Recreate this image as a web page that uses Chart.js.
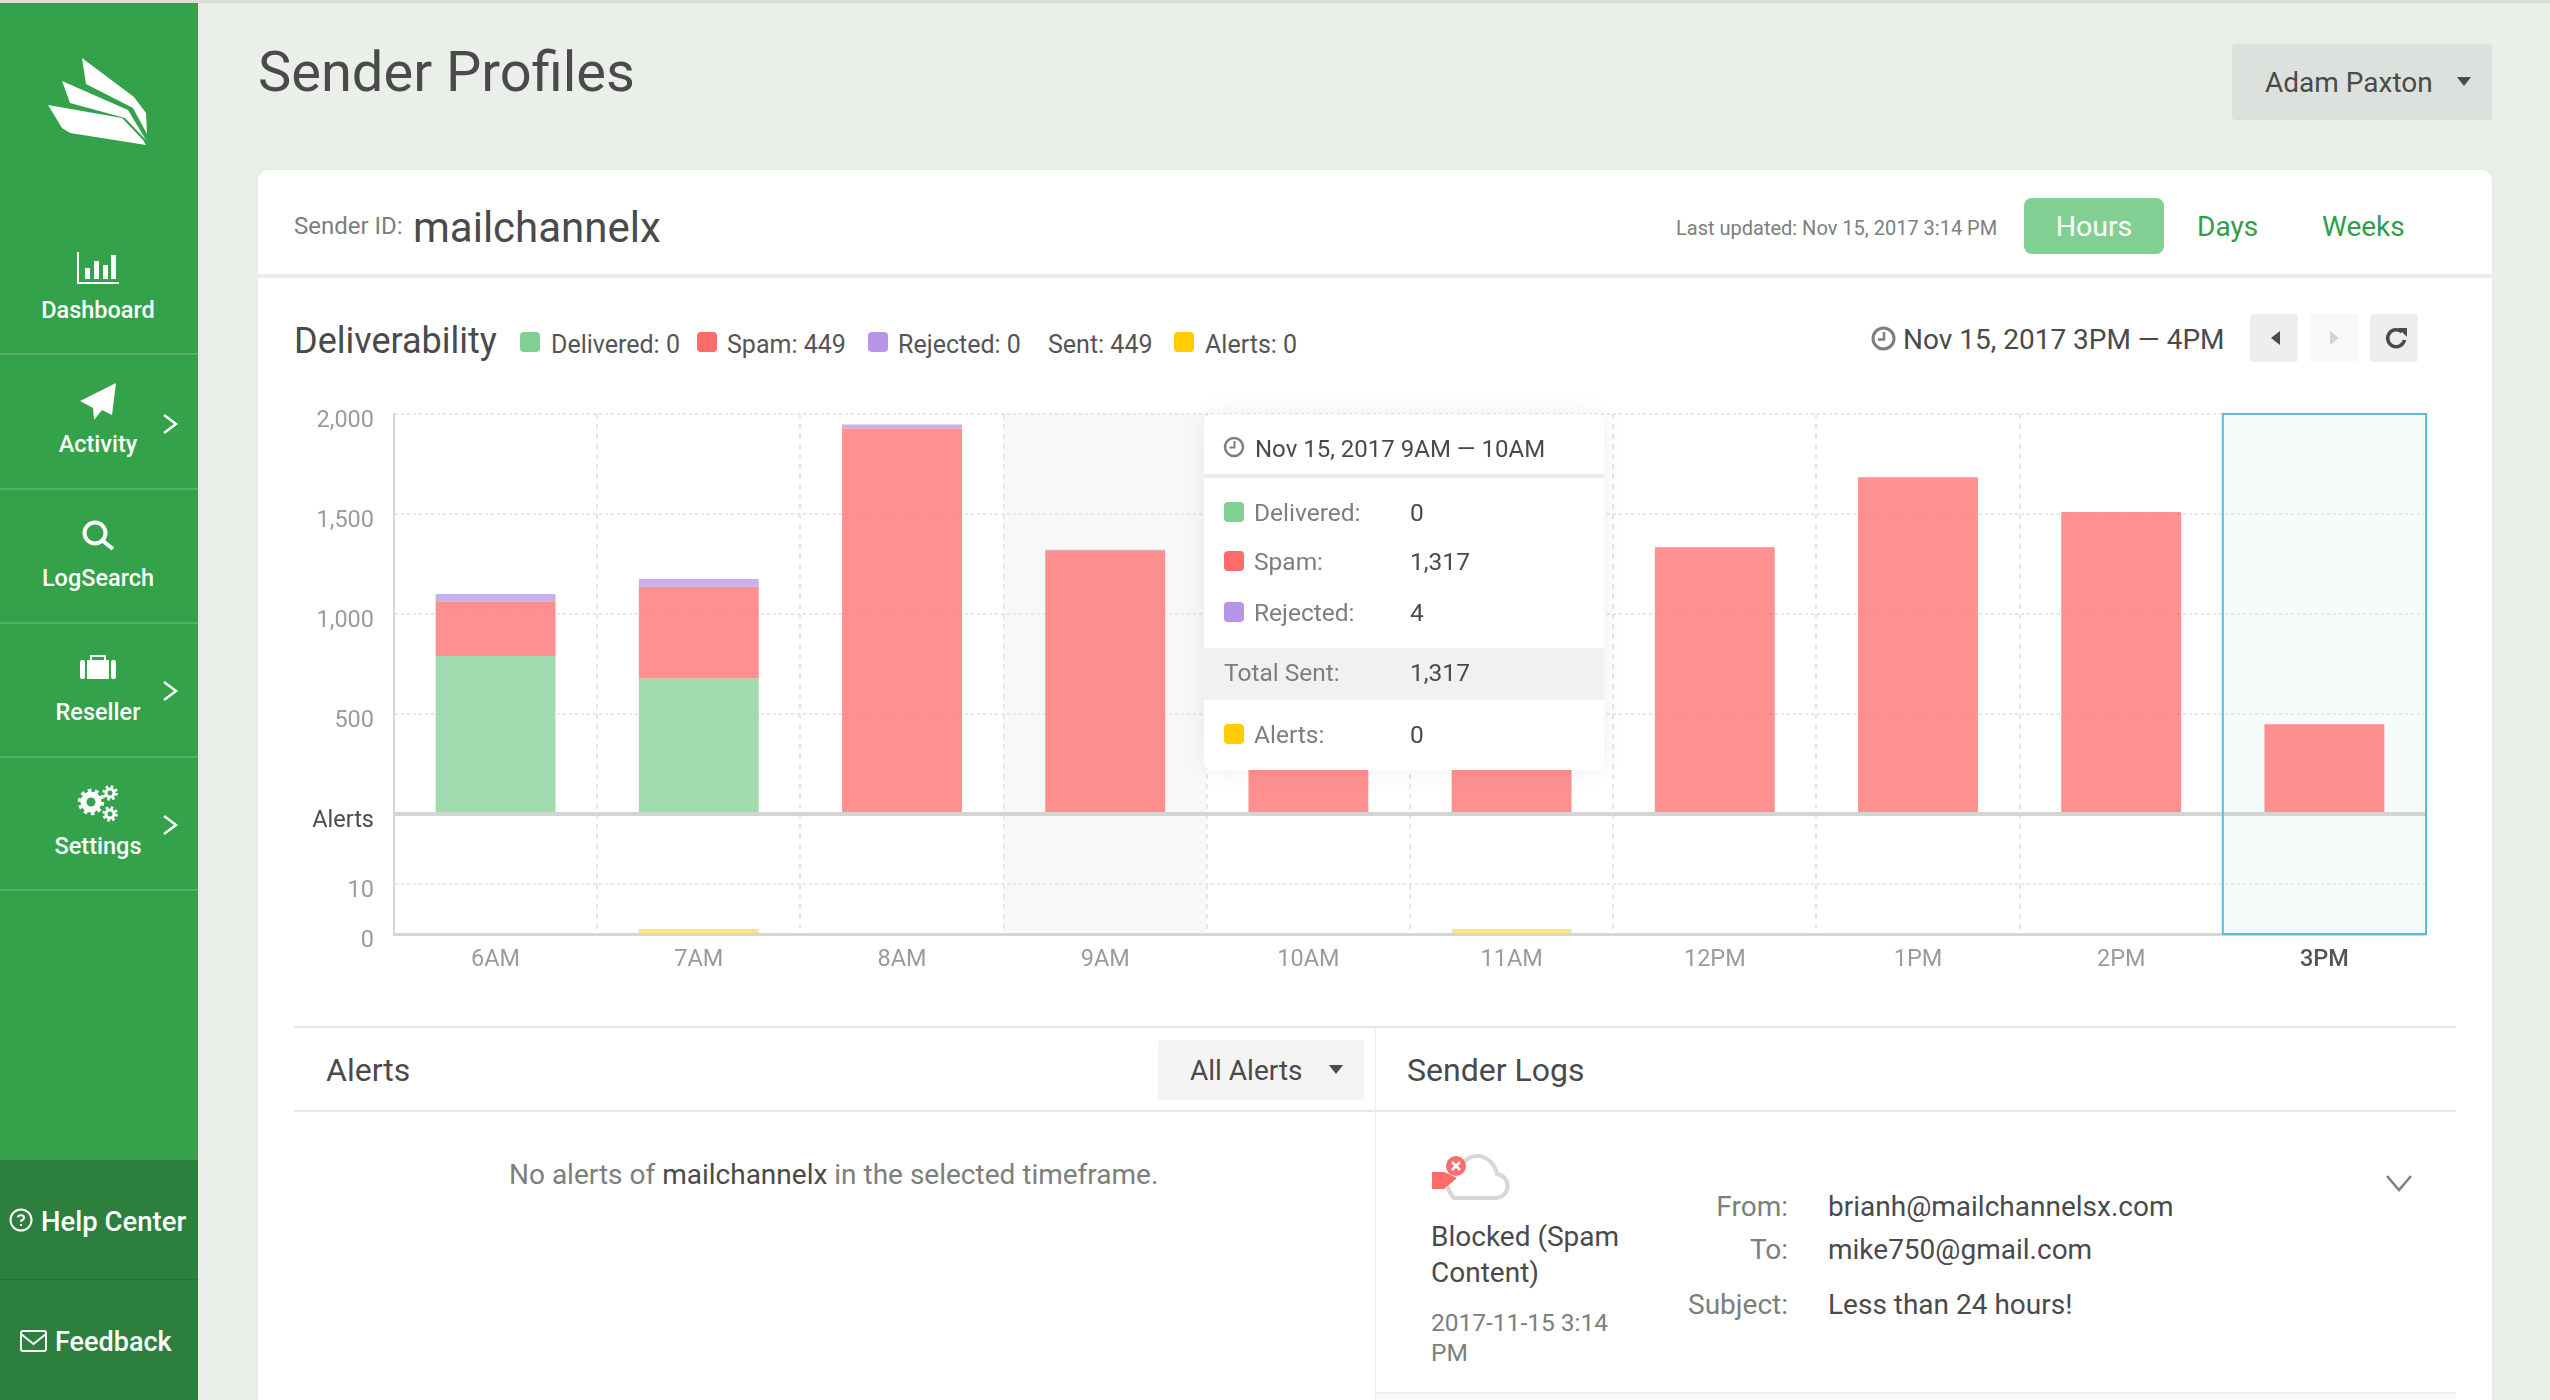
<!DOCTYPE html>
<html>
<head>
<meta charset="utf-8">
<title>Sender Profiles</title>
<script src="https://cdn.jsdelivr.net/npm/chart.js@4/dist/chart.umd.min.js"></script>
<style>
  html, body { margin: 0; padding: 0; }
  body { width: 2550px; height: 1400px; position: relative; overflow: hidden; background: #ebefea; font-family: Roboto, sans-serif; color: #4a4a4a; }
  .box { position: absolute; }
  .t { position: absolute; white-space: nowrap; line-height: 1; transform: translateY(calc(-50% + 1.5px)); }
  .r { transform: translate(-100%, calc(-50% + 1.5px)); }
  .c { transform: translate(-50%, calc(-50% + 1.5px)); color: #fff; font-weight: 500; font-size: 23.5px; }
  .g { color: #7b807c; }
  svg { position: absolute; overflow: visible; }
  #chart { position: absolute; left: 294px; top: 400px; }
  .sq { position: absolute; width: 20px; height: 20px; border-radius: 4px; }
  #tip { position: absolute; left: 1204px; top: 414px; width: 400px; height: 356px; background: #fff; border-radius: 8px; box-shadow: 0 0 24px rgba(0,0,0,.07); }
</style>
</head>
<body>

<div class="box" style="left:0;top:0;width:2550px;height:3px;background:#dcdedc"></div>

<!-- sidebar -->
<div class="box" style="left:0;top:3px;width:198px;height:1397px;background:#34a14b"></div>
<div class="box" style="left:0;top:1160px;width:198px;height:240px;background:#2c7f3c"></div>
<div class="box" style="left:0;top:1279px;width:198px;height:1px;background:#266f35"></div>
<div class="box" style="left:0;top:353px;width:198px;height:2px;background:#56b068"></div>
<div class="box" style="left:0;top:488px;width:198px;height:2px;background:#56b068"></div>
<div class="box" style="left:0;top:622px;width:198px;height:2px;background:#56b068"></div>
<div class="box" style="left:0;top:756px;width:198px;height:2px;background:#56b068"></div>
<div class="box" style="left:0;top:889px;width:198px;height:2px;background:#56b068"></div>

<svg style="left:0;top:0" width="198" height="150" fill="#fff">
  <polygon points="82,58 134,97 146,113 147,134 133,108 86,84"/>
  <polygon points="62,81 128,110 143,135 146,140 125,118 70,103"/>
  <polygon points="48,105 122,118 143,140 146,145 70,133 62,128"/>
</svg>

<svg style="left:0;top:0" width="198" height="900" fill="#fff" stroke="none">
  <path d="M78 252v31h41" fill="none" stroke="#fff" stroke-width="2"/>
  <rect x="85" y="268" width="5" height="11"/><rect x="94" y="261" width="5" height="18"/>
  <rect x="103" y="265" width="5" height="14"/><rect x="111" y="255" width="5" height="24"/>
  <polygon points="116,383 80,401 93,408 94,420 102,410 112,415"/>
  <circle cx="95" cy="533" r="10.5" fill="none" stroke="#fff" stroke-width="4"/>
  <path d="M103 541l10 8" stroke="#fff" stroke-width="4"/>
  <rect x="80" y="660" width="5" height="19" rx="2"/><rect x="87" y="660" width="22" height="19"/>
  <rect x="111" y="660" width="5" height="19" rx="2"/>
  <path d="M91 660v-4h14v4" fill="none" stroke="#fff" stroke-width="2"/>
  <g fill="none" stroke="#fff">
    <circle cx="91" cy="802" r="7.500" stroke-width="6"/>
    <circle cx="91" cy="802" r="11.500" stroke-width="3.500" stroke-dasharray="3.600 3.630"/>
    <circle cx="110" cy="793" r="4" stroke-width="3"/>
    <circle cx="110" cy="793" r="6.500" stroke-width="2.500" stroke-dasharray="2.550 2.550"/>
    <circle cx="110" cy="814" r="4" stroke-width="3"/>
    <circle cx="110" cy="814" r="6.500" stroke-width="2.500" stroke-dasharray="2.550 2.550"/>
  </g>
  <g fill="none" stroke="#fff" stroke-width="2.5">
    <path d="M164 415l12 9-12 9"/><path d="M164 682l12 9-12 9"/><path d="M164 816l12 9-12 9"/>
  </g>
</svg>

<div class="t c" style="left:98px;top:309px">Dashboard</div>
<div class="t c" style="left:98px;top:443px">Activity</div>
<div class="t c" style="left:98px;top:577px">LogSearch</div>
<div class="t c" style="left:98px;top:711px">Reseller</div>
<div class="t c" style="left:98px;top:845px">Settings</div>

<svg style="left:0;top:1200px" width="198" height="170" fill="none" stroke="#fff" stroke-width="2">
  <circle cx="21" cy="20" r="10.5"/>
  <path d="M21 22v-1c3-1.500 3-2.500 3-3.500 0-3-6-3-6 0" /><path d="M21 24v2"/>
  <rect x="21" y="131" width="25" height="20" rx="2"/><path d="M21 134l12.500 10 12.500-10"/>
</svg>
<div class="t" style="left:41px;top:1220px;font-size:27.500px;font-weight:500;color:#fff">Help Center</div>
<div class="t" style="left:55px;top:1341px;font-size:27px;font-weight:500;color:#fff">Feedback</div>

<!-- page header -->
<div class="t" style="left:258px;top:70px;font-size:56px">Sender Profiles</div>
<div class="box" style="left:2232px;top:44px;width:260px;height:76px;background:#dce1dd;border-radius:4px"></div>
<div class="t" style="left:2265px;top:80.500px;font-size:28px">Adam Paxton</div>
<svg style="left:2457px;top:77px" width="14" height="9"><polygon points="0,0 14,0 7,9" fill="#4a4a4a"/></svg>

<!-- card -->
<div class="box" style="left:258px;top:170px;width:2234px;height:1240px;background:#fff;border-radius:10px;box-shadow:0 0 3px rgba(0,0,0,.05)"></div>
<div class="box" style="left:258px;top:274px;width:2234px;height:4px;background:#ebefea"></div>

<div class="t g" style="left:294px;top:224px;font-size:24px">Sender ID:</div>
<div class="t" style="left:413px;top:225.500px;font-size:42px">mailchannelx</div>
<div class="t g" style="left:1676px;top:226px;font-size:20px">Last updated: Nov 15, 2017 3:14 PM</div>
<div class="box" style="left:2024px;top:198px;width:140px;height:56px;background:#82cf94;border-radius:8px"></div>
<div class="t" style="left:2094px;top:226px;font-size:28.500px;color:#fff;transform:translate(-50%,calc(-50% + 1.5px))">Hours</div>
<div class="t" style="left:2197px;top:225px;font-size:28px;color:#2f9e47">Days</div>
<div class="t" style="left:2322px;top:225px;font-size:28px;color:#2f9e47">Weeks</div>

<!-- chart heading -->
<div class="t" style="left:294px;top:339px;font-size:36px">Deliverability</div>
<div id="legend"></div>

<svg style="left:1871px;top:326px" width="25" height="25" fill="none" stroke="#7b807c" stroke-width="3">
  <circle cx="12.500" cy="12.500" r="10.500"/><path d="M13 6v7.500H7" stroke-width="2.500"/>
</svg>
<div class="t" style="left:1903px;top:338px;font-size:28px">Nov 15, 2017 3PM — 4PM</div>
<div class="box" style="left:2250px;top:314px;width:48px;height:48px;background:#eeeeee;border-radius:3px"></div>
<div class="box" style="left:2310px;top:314px;width:48px;height:48px;background:#f8f8f8;border-radius:3px"></div>
<div class="box" style="left:2370px;top:314px;width:48px;height:48px;background:#eeeeee;border-radius:3px"></div>
<svg style="left:2250px;top:314px" width="168" height="48">
  <polygon points="30,17 30,31 21,24" fill="#4a4a4a"/>
  <polygon points="80,17 80,31 89,24" fill="#d4d4d4"/>
  <path d="M152 18a8.500 8.500 0 1 0 2.500 8" fill="none" stroke="#4a4a4a" stroke-width="3.500"/>
  <polygon points="148,14 157,14 157,23" fill="#4a4a4a"/>
</svg>

<canvas id="chart" width="2140" height="590"></canvas>

<div id="tip"></div>

<!-- lower panels -->
<div class="box" style="left:294px;top:1026px;width:2162px;height:2px;background:#e6e6e6"></div>
<div class="box" style="left:294px;top:1110px;width:2162px;height:2px;background:#e6e6e6"></div>
<div class="box" style="left:1375px;top:1027px;width:1px;height:373px;background:#eeeeee"></div>

<div class="t" style="left:326px;top:1068px;font-size:32px">Alerts</div>
<div class="box" style="left:1158px;top:1040px;width:206px;height:60px;background:#f4f4f4;border-radius:4px"></div>
<div class="t" style="left:1190px;top:1069px;font-size:28px">All Alerts</div>
<svg style="left:1329px;top:1065px" width="14" height="9"><polygon points="0,0 14,0 7,9" fill="#4a4a4a"/></svg>
<div class="t g" style="left:509px;top:1172.500px;font-size:28px">No alerts of <span style="color:#4a4a4a">mailchannelx</span> in the selected timeframe.</div>

<div class="t" style="left:1407px;top:1068px;font-size:32px">Sender Logs</div>
<svg style="left:1432px;top:1154px" width="76" height="46">
  <path d="M22 44h40a12 12 0 0 0 3-24c-2-10-10-18-19-18-8 0-14 4-17 11-8 1-14 8-14 15 0 9 7 16 7 16z" fill="#fff" stroke="#d6d8d6" stroke-width="4"/>
  <circle cx="24" cy="12" r="10" fill="#ff6b6b"/>
  <path d="M20 8l8 8M28 8l-8 8" stroke="#fff" stroke-width="2.500"/>
  <polygon points="0,21 12,21 25,27 12,38 0,38" fill="#ff6b6b" transform="translate(0,-3)"/>
</svg>
<div class="t" style="left:1431px;top:1235px;font-size:28px">Blocked (Spam</div>
<div class="t" style="left:1431px;top:1271px;font-size:28px">Content)</div>
<div class="t g" style="left:1431px;top:1322px;font-size:24.500px">2017-11-15 3:14</div>
<div class="t g" style="left:1431px;top:1352px;font-size:24.500px">PM</div>
<div class="t r g" style="left:1788px;top:1205px;font-size:28px">From:</div>
<div class="t r g" style="left:1788px;top:1248px;font-size:28px">To:</div>
<div class="t r g" style="left:1788px;top:1303px;font-size:28px">Subject:</div>
<div class="t" style="left:1828px;top:1205px;font-size:28px">brianh@mailchannelsx.com</div>
<div class="t" style="left:1828px;top:1248px;font-size:28px">mike750@gmail.com</div>
<div class="t" style="left:1828px;top:1303px;font-size:28px">Less than 24 hours!</div>
<svg style="left:2386px;top:1175px" width="26" height="16"><path d="M1 1l12 14L25 1" fill="none" stroke="#7b807c" stroke-width="2.500"/></svg>
<div class="box" style="left:1376px;top:1392px;width:1080px;height:2px;background:#eeeeee"></div>
<div class="box" style="left:1376px;top:1394px;width:1080px;height:6px;background:#f8f9f8"></div>

<script>
const hours = ['6AM', '7AM', '8AM', '9AM', '10AM', '11AM', '12PM', '1PM', '2PM', '3PM'];
const delivered = [790, 678, 0, 0, 0, 0, 0, 0, 0, 0];
const spam = [273, 458, 1928, 1317, 900, 850, 1330, 1683, 1510, 449];
const rejected = [37, 39, 20, 4, 0, 0, 5, 2, 0, 0];
const alerts = [0, 1, 0, 0, 0, 1, 0, 0, 0, 0];

const volumeTicks = [0, 500, 1000, 1500, 2000];
const alertTicks = [0, 10, 24];   // 24 is the top of the lower panel, where "Alerts" sits
const shadedHour = 3;
const selectedHour = 9;

const GREEN = '#82cf94', RED = '#ff6b6b', PURPLE = '#b695e6', YELLOW = '#ffcc00';
const fmt = n => n.toLocaleString('en-US');

// legend and tooltip text come from the same arrays as the bars
const legendItems = [
  [520, 551, GREEN, 'Delivered: ' + fmt(delivered[selectedHour])],
  [697, 727, RED, 'Spam: ' + fmt(spam[selectedHour])],
  [868, 898, PURPLE, 'Rejected: ' + fmt(rejected[selectedHour])],
  [null, 1048, null, 'Sent: ' + fmt(delivered[selectedHour] + spam[selectedHour])],
  [1174, 1205, YELLOW, 'Alerts: ' + fmt(alerts[selectedHour])]
];
document.getElementById('legend').innerHTML = legendItems.map(([sx, tx, color, text]) => {
  const sq = color ? `<div class="sq" style="left:${sx}px;top:332px;background:${color}"></div>` : '';
  return sq + `<div class="t" style="left:${tx}px;top:343px;font-size:25px;color:#555">${text}</div>`;
}).join('');

const tipRows = [
  [98, GREEN, 'Delivered:', delivered[shadedHour]],
  [147, RED, 'Spam:', spam[shadedHour]],
  [198, PURPLE, 'Rejected:', rejected[shadedHour]],
  [320, YELLOW, 'Alerts:', alerts[shadedHour]]
];
document.getElementById('tip').innerHTML = `
  <svg style="left:19px;top:22px" width="22" height="22" fill="none" stroke="#7b807c" stroke-width="2.500">
    <circle cx="11" cy="11" r="9"/><path d="M11.500 5v6.500H6.500" stroke-width="2"/>
  </svg>
  <div class="t" style="left:51px;top:33px;font-size:24px">Nov 15, 2017 9AM — 10AM</div>
  <div class="box" style="left:0;top:60px;width:400px;height:4px;background:#ebefea"></div>
  <div class="box" style="left:0;top:234px;width:400px;height:52px;background:#f0f2ef"></div>
  <div class="t g" style="left:20px;top:258px;font-size:24.500px">Total Sent:</div>
  <div class="t" style="left:206px;top:258px;font-size:24.500px">${fmt(spam[shadedHour])}</div>
` + tipRows.map(([y, color, label, value]) => `
  <div class="sq" style="left:20px;top:${y - 10}px;background:${color}"></div>
  <div class="t g" style="left:50px;top:${y}px;font-size:24.500px">${label}</div>
  <div class="t" style="left:206px;top:${y}px;font-size:24.500px">${fmt(value)}</div>
`).join('');

// shaded column behind the hovered hour, boxed column for the selected one
const columnsPlugin = {
  id: 'columns',
  beforeDraw(chart) {
    const { ctx, chartArea, scales } = chart;
    const step = scales.x.getPixelForValue(1) - scales.x.getPixelForValue(0);
    const left = i => scales.x.getPixelForValue(i) - step / 2;
    ctx.save();
    ctx.fillStyle = '#f8f8f8';
    ctx.fillRect(left(shadedHour), chartArea.top, step, chartArea.bottom - chartArea.top);
    ctx.fillStyle = '#f6fbfb';
    ctx.fillRect(left(selectedHour), chartArea.top, step, chartArea.bottom - chartArea.top);
    ctx.restore();
  },
  afterDraw(chart) {
    const { ctx, chartArea, scales } = chart;
    const step = scales.x.getPixelForValue(1) - scales.x.getPixelForValue(0);
    ctx.save();
    ctx.strokeStyle = '#5bbcd6';
    ctx.lineWidth = 2;
    ctx.strokeRect(scales.x.getPixelForValue(selectedHour) - step / 2, chartArea.top, step, chartArea.bottom - chartArea.top);
    ctx.restore();
  }
};

Chart.defaults.font.family = 'Roboto';

// the reference sets its y labels a bit under the grid line: an empty first line
// of a two-line label moves the text down by half the line height
const lowered = text => ['', text];
const tickFont = { size: 23.5, lineHeight: '15px' };

// fixed axis sizes, and no extra room for labels that overhang the plot
const fixWidth = s => { s.width = 100; s.paddingTop = 0; s.paddingBottom = 0; };

new Chart(document.getElementById('chart'), {
  type: 'bar',
  data: {
    labels: hours,
    datasets: [
      { label: 'Delivered', data: delivered, backgroundColor: 'rgba(130,207,148,.75)', yAxisID: 'y' },
      { label: 'Spam', data: spam, backgroundColor: 'rgba(255,107,107,.75)', yAxisID: 'y' },
      { label: 'Rejected', data: rejected, backgroundColor: 'rgba(182,149,230,.75)', yAxisID: 'y' },
      { label: 'Alerts', data: alerts, backgroundColor: 'rgba(255,204,0,.5)', yAxisID: 'yAlerts' }
    ]
  },
  plugins: [columnsPlugin],
  options: {
    responsive: false,
    animation: false,
    devicePixelRatio: 1,
    events: [],
    categoryPercentage: 1,
    barPercentage: 0.59,
    layout: { padding: { top: 14, right: 8 } },
    plugins: { legend: { display: false }, tooltip: { enabled: false } },
    scales: {
      x: {
        stacked: true,
        afterFit: s => { s.height = 56; s.paddingLeft = 0; s.paddingRight = 0; },
        grid: { color: '#e6e6e6', lineWidth: 2, drawTicks: false },
        border: { color: '#d6d6d6', width: 3, dash: [5, 5] },
        ticks: {
          padding: 12,
          maxRotation: 0,
          font: c => ({ size: 23.5, weight: c.index === selectedHour ? '500' : '400' }),
          color: c => c.index === selectedHour ? '#555555' : '#9b9b9b'
        }
      },
      y: {
        stack: 'rows',
        stackWeight: 400,
        weight: 1,   // upper row of the stack
        stacked: true,
        min: 0,
        max: 2000,
        afterFit: fixWidth,
        afterBuildTicks: s => { s.ticks = volumeTicks.map(v => ({ value: v })); },
        grid: {
          color: c => c.tick && c.tick.value === 0 ? '#d4d4d4' : '#e6e6e6',
          lineWidth: c => c.tick && c.tick.value === 0 ? 4 : 2,
          drawTicks: false
        },
        border: { color: '#d8d8d8', width: 2, dash: c => c.tick && c.tick.value === 0 ? [] : [3, 3] },
        ticks: {
          autoSkip: false,
          padding: 20,
          font: tickFont,
          color: '#9b9b9b',
          callback: v => v === 0 ? '' : lowered(fmt(v))
        }
      },
      yAlerts: {
        stack: 'rows',
        stackWeight: 120,
        stacked: true,
        min: 0,
        max: 24,
        afterFit: fixWidth,
        afterBuildTicks: s => { s.ticks = alertTicks.map(v => ({ value: v })); },
        grid: {
          color: c => c.tick && c.tick.value === 10 ? '#e6e6e6' : 'transparent',
          lineWidth: 2,
          drawTicks: false
        },
        border: { color: '#d8d8d8', width: 2, dash: [3, 3] },
        ticks: {
          autoSkip: false,
          padding: 20,
          font: tickFont,
          color: c => c.tick.value === 24 ? '#4a4a4a' : '#9b9b9b',
          callback: v => lowered(v === 24 ? 'Alerts' : String(v))
        }
      }
    }
  }
});
</script>
</body>
</html>
